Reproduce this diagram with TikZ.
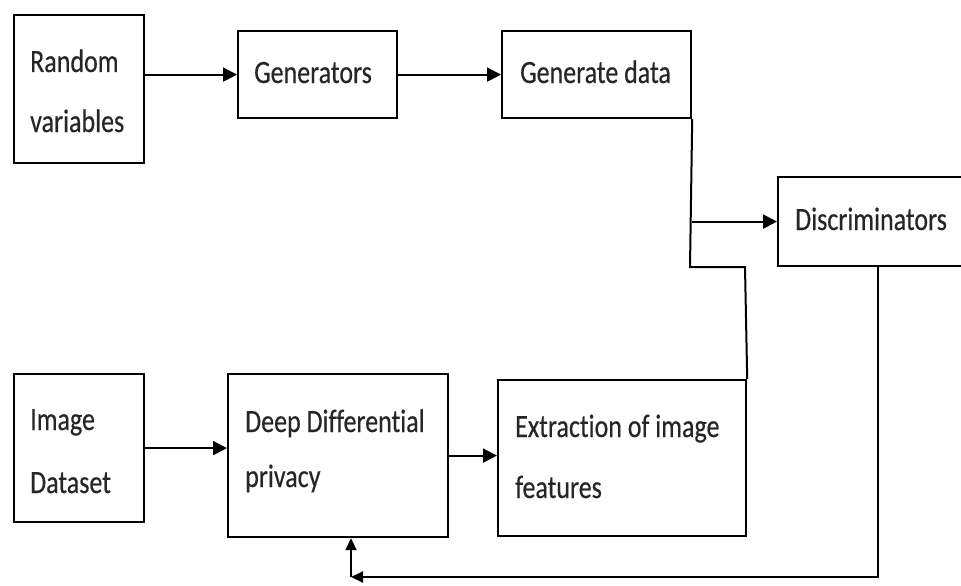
\documentclass[tikz,border=0pt]{standalone}
\usepackage{fontspec}
\setmainfont[FakeStretch=0.8, FakeBold=0.4, Ligatures=NoCommon]{Carlito}
\usetikzlibrary{arrows.meta}
\begin{document}
\begin{tikzpicture}[x=1pt,y=-1pt,
  box/.style={draw, line width=2.2pt, rectangle, anchor=north west, inner sep=0pt},
  lbl/.style={anchor=base west, inner sep=0pt, text=black!85, font=\fontsize{32.5}{39}\selectfont},
  link/.style={line width=2pt},
  arr/.style={line width=2pt, -{Triangle[length=14pt,width=14pt]}},
  fbarr/.style={line width=2pt, -{Triangle[length=12pt,width=11pt]}}]
\useasboundingbox (0,0) rectangle (961,586);
\clip (0,0) rectangle (961,586);

% blocks
\node[box, minimum width=130pt, minimum height=148pt] (rv)   at (13,14)  {};
\node[box, minimum width=159pt, minimum height=87pt]  (gen)  at (237,30) {};
\node[box, minimum width=189pt, minimum height=87pt]  (gd)   at (501,30) {};
\node[box, minimum width=200pt, minimum height=89pt]  (disc) at (777,176) {};
\node[box, minimum width=130pt, minimum height=148pt] (id)   at (13,373) {};
\node[box, minimum width=220pt, minimum height=163pt] (dd)   at (227,373) {};
\node[box, minimum width=248pt, minimum height=156pt] (ext)  at (497,379) {};

% block texts
\node[lbl] (t1a) at (30,72)   {Random};
\node[lbl] (t1b) at (30,132)  {variables};
\node[lbl] (t2)  at (254,83)  {Generators};
\node[lbl] (t3)  at (520,83)  {Generate data};
\node[lbl] (t4)  at (795,230) {Discriminators};
\node[lbl] (t5a) at (30,430)  {Image};
\node[lbl] (t5b) at (30,493)  {Dataset};
\node[lbl] (t6a) at (245,432) {Deep Differential};
\node[lbl] (t6b) at (245,487) {privacy};
\node[lbl] (t7a) at (515,437) {Extraction of image};
\node[lbl] (t7b) at (515,498) {features};

% junction points
\coordinate (j1) at (690,267);
\coordinate (j2) at (745,267);
\coordinate (fb) at (351,577);

% connectors
\draw[arr] (rv.east |- gen.west) -- (gen.west);
\draw[arr] (gen.east) -- (gd.west);
\draw[link] (gd.south east) -- (j1) -- (j2) -- (ext.north east);
\draw[arr] (gd.south east |- disc.west) -- (disc.west);
\draw[arr] (id.east) -- (dd.west |- id.east);
\draw[arr] (dd.east) -- (ext.west |- dd.east);
\draw[fbarr] (disc.south) -- (disc.south |- fb) -- (fb);
\draw[fbarr] (fb) -- (fb |- dd.south);
\end{tikzpicture}
\end{document}
